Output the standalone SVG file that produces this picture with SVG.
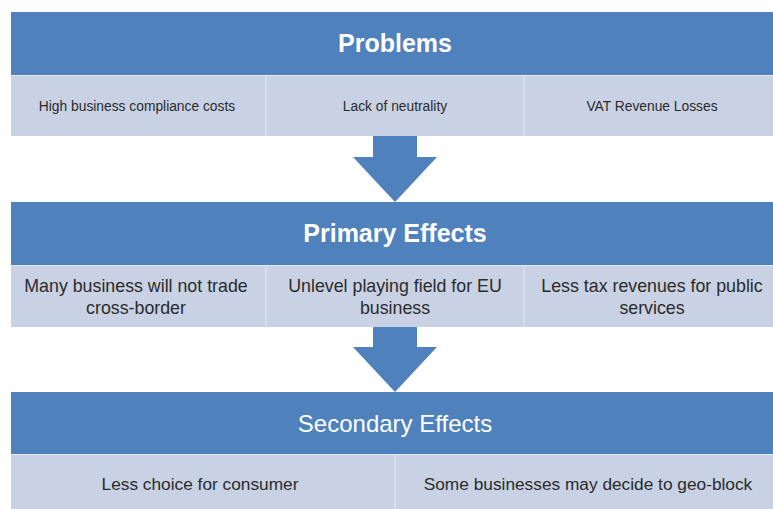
<svg xmlns="http://www.w3.org/2000/svg" width="773" height="509" viewBox="0 0 773 509">
<style>
.hdr{fill:#4f81bd}
.row{fill:#c8d2e4}
.div{stroke:#dbe2ee;stroke-width:1.5}
.sep{stroke:#e4e9f2;stroke-width:1}
.ht{font-family:"Liberation Sans",Arial,sans-serif;fill:#ffffff;text-anchor:middle}
.t{font-family:"Liberation Sans",Arial,sans-serif;fill:#2b2b2b;text-anchor:middle}
.arrow{fill:#4f81bd}
</style>
<rect width="773" height="509" fill="#ffffff"/>
<g id="problems">
<rect class="hdr" x="11" y="12" width="770" height="63"/>
<rect class="row" x="11" y="75" width="770" height="61"/>
<line class="sep" x1="11" y1="75.5" x2="781" y2="75.5"/>
<line class="div" x1="266" y1="76" x2="266" y2="136"/>
<line class="div" x1="524" y1="76" x2="524" y2="136"/>
<text class="ht" x="395" y="52" font-size="25" font-weight="bold">Problems</text>
<text class="t" x="137" y="111" font-size="13.8">High business compliance costs</text>
<text class="t" x="395" y="111" font-size="13.8">Lack of neutrality</text>
<text class="t" x="652" y="111" font-size="13.8">VAT Revenue Losses</text>
</g>
<g id="primary">
<rect class="hdr" x="11" y="202" width="770" height="63"/>
<rect class="row" x="11" y="265" width="770" height="62"/>
<line class="sep" x1="11" y1="265.5" x2="781" y2="265.5"/>
<line class="div" x1="266" y1="266" x2="266" y2="327"/>
<line class="div" x1="524" y1="266" x2="524" y2="327"/>
<text class="ht" x="395" y="242" font-size="25" font-weight="bold">Primary Effects</text>
<text class="t" x="136" y="292" font-size="17.8">Many business will not trade</text>
<text class="t" x="136" y="314" font-size="17.8">cross-border</text>
<text class="t" x="395" y="292" font-size="17.8">Unlevel playing field for EU</text>
<text class="t" x="395" y="314" font-size="17.8">business</text>
<text class="t" x="652" y="292" font-size="17.8">Less tax revenues for public</text>
<text class="t" x="652" y="314" font-size="17.8">services</text>
</g>
<g id="secondary">
<rect class="hdr" x="11" y="392" width="770" height="62"/>
<rect class="row" x="11" y="454" width="770" height="55"/>
<line class="sep" x1="11" y1="454.5" x2="781" y2="454.5"/>
<line class="div" x1="395" y1="455" x2="395" y2="509"/>
<text class="ht" x="395" y="432" font-size="24">Secondary Effects</text>
<text class="t" x="200" y="490" font-size="17.3">Less choice for consumer</text>
<text class="t" x="588" y="490" font-size="17.3">Some businesses may decide to geo-block</text>
</g>
<g id="connectors">
<polygon class="arrow" points="373,136 417,136 417,157 437,157 395,202 353,157 373,157"/>
<polygon class="arrow" points="373,327 417,327 417,347 437,347 395,392 353,347 373,347"/>
</g>
</svg>
